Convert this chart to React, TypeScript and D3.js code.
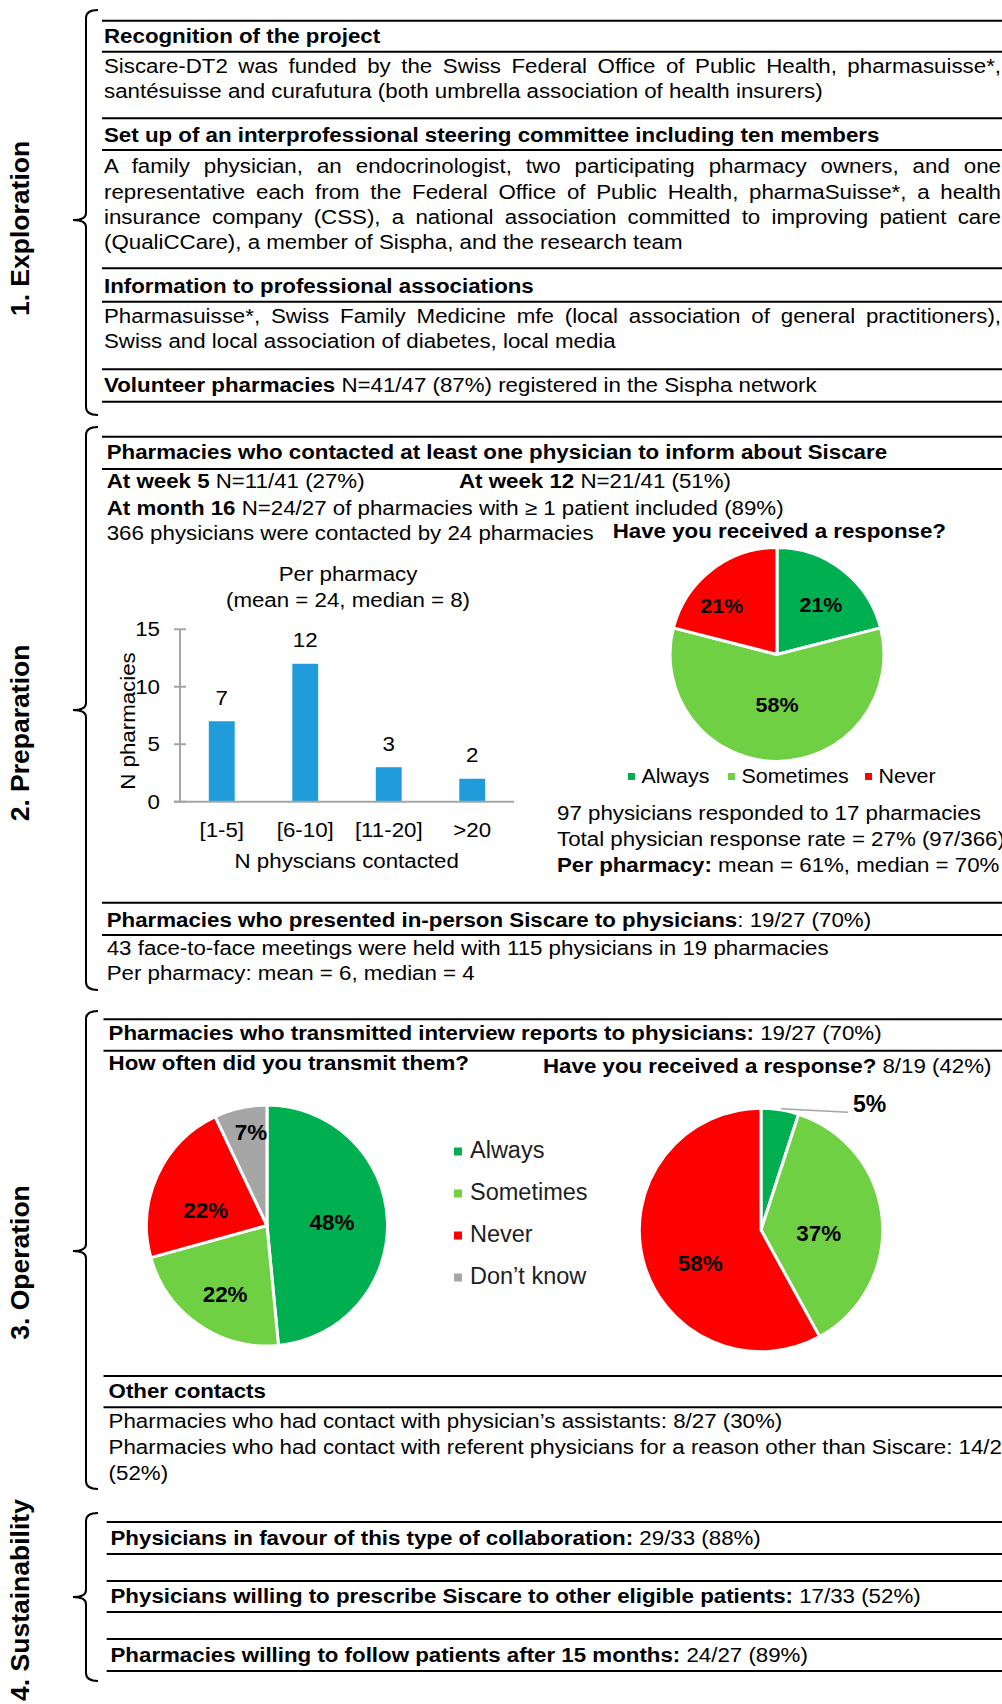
import React, { useEffect, useRef } from 'react';
import * as d3 from 'd3';

const FONT = '"Liberation Sans", Arial, Helvetica, sans-serif';

// ---- Data ----
const barCategories = ['[1-5]', '[6-10]', '[11-20]', '>20'];
const barValues = [7, 12, 3, 2];
const barTicks = [0, 5, 10, 15];

const responseLabels = ['Always', 'Sometimes', 'Never'];
const responseValues = [21, 58, 21];

const transmitLabels = ['Always', 'Sometimes', 'Never', 'Don’t know'];
const transmitValues = [48, 22, 22, 7];

const reportLabels = ['Always', 'Sometimes', 'Never'];
const reportValues = [5, 37, 58];

const COLORS: Record<string, string> = {
  Always: '#00B050',
  Sometimes: '#70D044',
  Never: '#FF0000',
  'Don’t know': '#A6A6A6',
};

// label placement (style): radius ratio and angle nudge in degrees
const LR_RESPONSE = [0.616, 0.47, 0.69];
const LA_RESPONSE = [4, 0, -10.6];
const LR_TRANSMIT = [0.54, 0.67, 0.525, 0.79];
const LA_TRANSMIT = [0, -3.3, -10, 3];
const LR_REPORT = [0, 0.475, 0.567];
const LA_REPORT = [0, 8, -14];

const SX = 1.115;

function T({ x, y, size = 20, sx = SX, anchor = 'start', bold = false, fill = '#000', justify, children }: any) {
  return (
    <text
      transform={`translate(${x},${y}) scale(${sx},1)`}
      fontSize={size}
      fontWeight={bold ? 'bold' : 'normal'}
      textAnchor={anchor}
      fill={fill}
      fontFamily={FONT}
      className={justify ? 'justify' : undefined}
      data-width={justify}
      data-sx={sx}
    >
      {children}
    </text>
  );
}

const B = ({ children }: any) => <tspan fontWeight="bold">{children}</tspan>;

function HL({ y, x1 = 102 }: any) {
  return <line x1={x1} x2={1002} y1={y} y2={y} stroke="#000" strokeWidth={2} />;
}

function Bracket({ top, mid, bottom }: any) {
  const d = `M98,${top} Q86,${top} 86,${top + 8} L86,${mid - 7} Q86,${mid} 73,${mid} Q86,${mid} 86,${mid + 7} L86,${bottom - 8} Q86,${bottom} 98,${bottom}`;
  return <path d={d} fill="none" stroke="#000" strokeWidth={2} />;
}

function SideLabel({ cy, children }: any) {
  return (
    <text
      transform={`translate(28.5,${cy}) rotate(-90)`}
      fontSize={26.5}
      fontWeight="bold"
      textAnchor="middle"
      fontFamily={FONT}
      fill="#000"
    >
      {children}
    </text>
  );
}

function Pie({ cx, cy, r, labels, values, ratios, angles, size, sx, showInside }: any) {
  const arcs = d3.pie<number>().sort(null).value((d) => d)(values);
  const arc = d3.arc<any>().innerRadius(0).outerRadius(r);
  return (
    <g transform={`translate(${cx},${cy})`}>
      {arcs.map((a, i) => (
        <path key={i} d={arc(a) as string} fill={COLORS[labels[i]]} stroke="#fff" strokeWidth={3} strokeLinejoin="round" />
      ))}
      {arcs.map((a, i) => {
        if (!showInside[i]) return null;
        const lr = r * ratios[i];
        const ang = (a.startAngle + a.endAngle) / 2 + (angles[i] * Math.PI) / 180;
        const lx = Math.sin(ang) * lr;
        const ly = -Math.cos(ang) * lr;
        return (
          <T key={'l' + i} x={lx} y={ly} size={size} sx={sx} anchor="middle" bold>
            <tspan dy="0.36em">{values[i]}%</tspan>
          </T>
        );
      })}
    </g>
  );
}

export default function App() {
  const ref = useRef<SVGSVGElement>(null);

  useEffect(() => {
    if (!ref.current) return;
    d3.select(ref.current)
      .selectAll<SVGTextElement, unknown>('text.justify')
      .each(function () {
        const el = this;
        el.setAttribute('word-spacing', '0');
        const natural = el.getComputedTextLength();
        const target = +(el.getAttribute('data-width') || 0) / +(el.getAttribute('data-sx') || 1);
        const spaces = ((el.textContent || '').match(/ /g) || []).length;
        if (spaces > 0 && target > natural) el.setAttribute('word-spacing', String((target - natural) / spaces));
      });
  }, []);

  // Bar chart scales
  const x = d3.scaleBand<string>().domain(barCategories).range([180, 514]).paddingInner(0.69).paddingOuter(0.345);
  const y = d3.scaleLinear().domain([0, 15]).range([801.7, 629.3]);

  // report pie small-slice leader
  const rCx = 761, rCy = 1230, rR = 121.7;
  const reportArcs = d3.pie<number>().sort(null).value((d) => d)(reportValues);
  const a0 = reportArcs[0];
  const mid0 = (a0.startAngle + a0.endAngle) / 2;
  const lx0 = rCx + Math.sin(mid0) * rR;
  const ly0 = rCy - Math.cos(mid0) * rR;

  const JW = 897;

  return (
    <svg
      ref={ref}
      width={1002}
      height={1704}
      style={{ position: 'absolute', left: 0, top: 0, background: '#fff' }}
      fontFamily={FONT}
    >
      <rect x={0} y={0} width={1002} height={1704} fill="#fff" />

      {/* Side labels */}
      <SideLabel cy={228.5}>1. Exploration</SideLabel>
      <SideLabel cy={733}>2. Preparation</SideLabel>
      <SideLabel cy={1262.5}>3. Operation</SideLabel>
      <SideLabel cy={1600}>4. Sustainability</SideLabel>

      <Bracket top={10} mid={220} bottom={415} />
      <Bracket top={427} mid={710} bottom={990} />
      <Bracket top={1011} mid={1251} bottom={1489} />
      <Bracket top={1513} mid={1597} bottom={1681} />

      {/* Section 1 */}
      <HL y={20.7} />
      <T x={104} y={42.7} bold>Recognition of the project</T>
      <HL y={51.7} />
      <T x={104} y={73.3} justify={JW}>Siscare-DT2 was funded by the Swiss Federal Office of Public Health, pharmasuisse*,</T>
      <T x={104} y={98.3}>santésuisse and curafutura (both umbrella association of health insurers)</T>
      <HL y={118.3} />
      <T x={104} y={141.7} bold>Set up of an interprofessional steering committee including ten members</T>
      <HL y={150} />
      <T x={104} y={173.3} justify={JW}>A family physician, an endocrinologist, two participating pharmacy owners, and one</T>
      <T x={104} y={199} justify={JW}>representative each from the Federal Office of Public Health, pharmaSuisse*, a health</T>
      <T x={104} y={224} justify={JW}>insurance company (CSS), a national association committed to improving patient care</T>
      <T x={104} y={249}>(QualiCCare), a member of Sispha, and the research team</T>
      <HL y={268.3} />
      <T x={104} y={292.7} bold>Information to professional associations</T>
      <HL y={301.7} />
      <T x={104} y={323.3} justify={JW}>Pharmasuisse*, Swiss Family Medicine mfe (local association of general practitioners),</T>
      <T x={104} y={348.3}>Swiss and local association of diabetes, local media</T>
      <HL y={369.3} />
      <T x={104} y={391.7}><B>Volunteer pharmacies</B> N=41/47 (87%) registered in the Sispha network</T>
      <HL y={401.7} />

      {/* Section 2 */}
      <HL y={436.7} />
      <T x={106.7} y={459} bold>Pharmacies who contacted at least one physician to inform about Siscare</T>
      <HL y={469} />
      <T x={106.7} y={488}><B>At week 5</B> N=11/41 (27%)</T>
      <T x={459} y={488}><B>At week 12</B> N=21/41 (51%)</T>
      <T x={106.7} y={515}><B>At month 16</B> N=24/27 of pharmacies with ≥ 1 patient included (89%)</T>
      <T x={106.7} y={540}>366 physicians were contacted by 24 pharmacies</T>
      <T x={612.7} y={538.3} bold>Have you received a response?</T>

      {/* Bar chart */}
      <T x={348} y={580.7} anchor="middle">Per pharmacy</T>
      <T x={348} y={606.7} anchor="middle">(mean = 24, median = 8)</T>
      {barCategories.map((c, i) => (
        <rect key={c} x={x(c)} y={y(barValues[i])} width={x.bandwidth()} height={y(0) - y(barValues[i])} fill="#1F9CD9" />
      ))}
      <line x1={x.range()[0]} x2={x.range()[0]} y1={y(0)} y2={y(15)} stroke="#A6A6A6" strokeWidth={2} />
      <line x1={x.range()[0] - 6} x2={x.range()[1]} y1={y(0)} y2={y(0)} stroke="#A6A6A6" strokeWidth={2} />
      {barTicks.map((t) => (
        <g key={t}>
          <line x1={x.range()[0] - 6} x2={x.range()[0] + 6} y1={y(t)} y2={y(t)} stroke="#A6A6A6" strokeWidth={2} />
          <T x={160} y={y(t) + 7} anchor="end">{t}</T>
        </g>
      ))}
      {barCategories.map((c, i) => (
        <g key={'v' + c}>
          <T x={(x(c) as number) + x.bandwidth() / 2} y={y(barValues[i]) - 16.5} anchor="middle">{barValues[i]}</T>
          <T x={(x(c) as number) + x.bandwidth() / 2} y={837} anchor="middle">{c}</T>
        </g>
      ))}
      <text transform={`translate(134.5,721) rotate(-90) scale(${SX},1)`} fontSize={20} textAnchor="middle" fontFamily={FONT}>N pharmacies</text>
      <T x={346.7} y={868.3} anchor="middle">N physcians contacted</T>

      {/* Pie 1 */}
      <Pie cx={777} cy={654.5} r={107} labels={responseLabels} values={responseValues} ratios={LR_RESPONSE} angles={LA_RESPONSE} size={19.5} sx={1.1} showInside={[true, true, true]} />
      {responseLabels.map((l, i) => {
        const mx = [628, 728, 865][i];
        return (
          <g key={l}>
            <rect x={mx} y={773} width={7} height={7} fill={COLORS[l]} />
            <T x={mx + 13.5} y={783.3} size={19.5} sx={1.1}>{l}</T>
          </g>
        );
      })}
      <T x={557} y={820}>97 physicians responded to 17 pharmacies</T>
      <T x={557} y={846}>Total physician response rate = 27% (97/366)</T>
      <T x={557} y={872}><B>Per pharmacy:</B> mean = 61%, median = 70%</T>

      <HL y={902.7} />
      <T x={106.7} y={927}><B>Pharmacies who presented in-person Siscare to physicians</B>: 19/27 (70%)</T>
      <HL y={935} />
      <T x={106.7} y={955}>43 face-to-face meetings were held with 115 physicians in 19 pharmacies</T>
      <T x={106.7} y={980}>Per pharmacy: mean = 6, median = 4</T>

      {/* Section 3 */}
      <HL y={1019.3} x1={103.5} />
      <T x={108.6} y={1040}><B>Pharmacies who transmitted interview reports to physicians:</B> 19/27 (70%)</T>
      <HL y={1050.7} x1={103.5} />
      <T x={108.6} y={1070} bold>How often did you transmit them?</T>
      <T x={543} y={1073.3}><B>Have you received a response?</B> 8/19 (42%)</T>

      <Pie cx={267} cy={1225.5} r={120.5} labels={transmitLabels} values={transmitValues} ratios={LR_TRANSMIT} angles={LA_TRANSMIT} size={22} sx={1.02} showInside={[true, true, true, true]} />
      {transmitLabels.map((l, i) => (
        <g key={'tl' + l}>
          <rect x={454} y={1147.5 + i * 42} width={8} height={8} fill={COLORS[l]} />
          <T x={470} y={1158.3 + i * 42} size={23.5} sx={1} fill="#1e1e1e">{l}</T>
        </g>
      ))}

      <Pie cx={rCx} cy={rCy} r={rR} labels={reportLabels} values={reportValues} ratios={LR_REPORT} angles={LA_REPORT} size={22} sx={1.02} showInside={[false, true, true]} />
      <polyline points={`${lx0 + 1},${ly0 - 1} ${lx0 + 68},${ly0 + 2.5}`} fill="none" stroke="#A6A6A6" strokeWidth={1.5} />
      <T x={853} y={1112.3} size={23} sx={1} bold>{reportValues[0]}%</T>

      <HL y={1376} x1={103.5} />
      <T x={108.6} y={1398.3} bold>Other contacts</T>
      <HL y={1407.3} x1={103.5} />
      <T x={108.6} y={1428.3}>Pharmacies who had contact with physician’s assistants: 8/27 (30%)</T>
      <T x={108.6} y={1454.3}>Pharmacies who had contact with referent physicians for a reason other than Siscare: 14/27</T>
      <T x={108.6} y={1480}>(52%)</T>

      {/* Section 4 */}
      <HL y={1522} x1={106.7} />
      <T x={110.5} y={1545}><B>Physicians in favour of this type of collaboration:</B> 29/33 (88%)</T>
      <HL y={1554} x1={106.7} />
      <HL y={1581} x1={106.7} />
      <T x={110.5} y={1603}><B>Physicians willing to prescribe Siscare to other eligible patients:</B> 17/33 (52%)</T>
      <HL y={1612} x1={106.7} />
      <HL y={1639} x1={106.7} />
      <T x={110.5} y={1662}><B>Pharmacies willing to follow patients after 15 months:</B> 24/27 (89%)</T>
      <HL y={1671} x1={106.7} />
    </svg>
  );
}
